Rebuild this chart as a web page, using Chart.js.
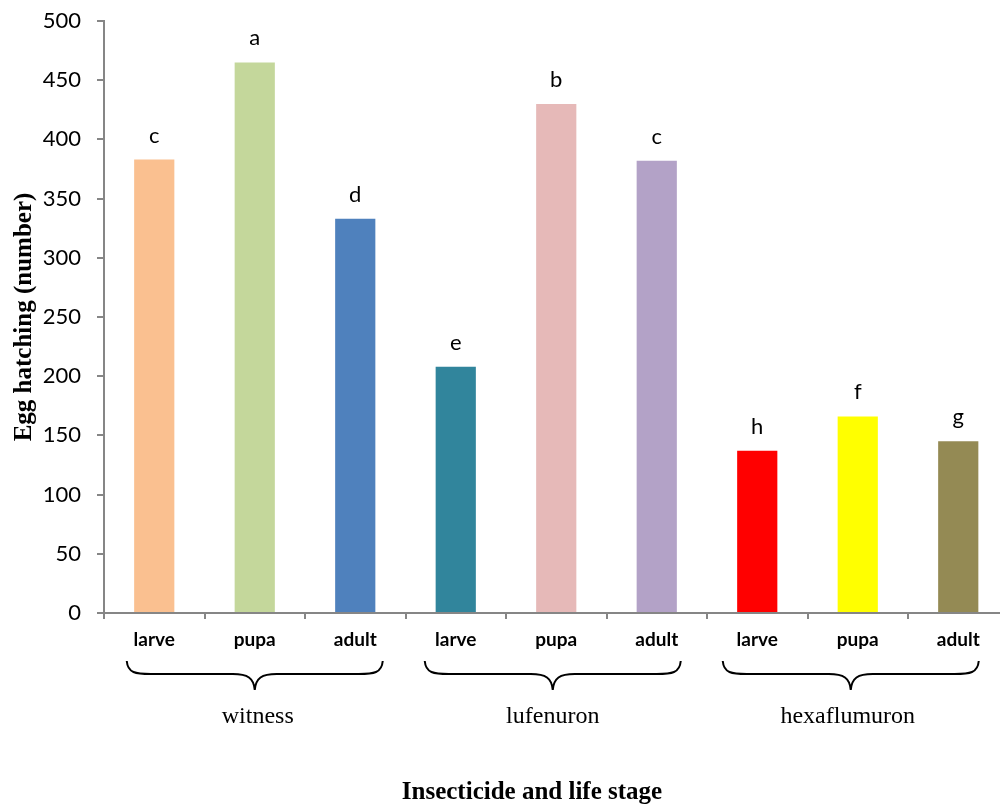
<!DOCTYPE html>
<html>
<head>
<meta charset="utf-8">
<script src="https://cdn.jsdelivr.net/npm/chart.js@4.4.1/dist/chart.umd.min.js"></script>
<style>
  html, body { margin: 0; padding: 0; background: #fff; overflow: hidden; }
  #wrap { width: 1010px; height: 804px; }
</style>
</head>
<body>
<div id="wrap"><canvas id="c" width="1010" height="804"></canvas></div>
<script>
const stages = ['larve', 'pupa', 'adult', 'larve', 'pupa', 'adult', 'larve', 'pupa', 'adult'];
const groups = ['witness', 'lufenuron', 'hexaflumuron'];
const hatching = [383, 465, 333, 208, 430, 382, 137, 166, 145];
const letters = ['c', 'a', 'd', 'e', 'b', 'c', 'h', 'f', 'g'];
const barColors = ['#FAC090', '#C4D79B', '#4F81BD', '#31859C', '#E6B9B8', '#B3A2C7', '#FF0000', '#FFFF00', '#948A54'];
const yMin = 0, yMax = 500, yStep = 50;
const yTitle = 'Egg hatching (number)';
const xTitle = 'Insecticide and life stage';

const axisGray = '#868686';

const annot = {
  id: 'annot',
  afterDraw(chart) {
    const ctx = chart.ctx;
    const xs = chart.scales.x;
    const meta = chart.getDatasetMeta(0);
    ctx.save();
    // significance letters
    ctx.fillStyle = '#000';
    ctx.font = '22px Lato';
    ctx.textAlign = 'center';
    ctx.textBaseline = 'alphabetic';
    meta.data.forEach((el, i) => {
      ctx.fillText(letters[i], el.x, el.y - 17);
    });
    // braces + group labels
    ctx.strokeStyle = '#000';
    ctx.lineWidth = 2;
    groups.forEach((g, gi) => {
      const cMid = xs.getPixelForValue(gi * 3 + 1);
      const bc = cMid - gi * 3.5;       // brace centre
      const half = 128;
      const x0 = bc - half, x1 = bc + half;
      const yTop = 661, yMidL = 674, yTip = 690;
      ctx.beginPath();
      ctx.moveTo(x0, yTop);
      ctx.bezierCurveTo(x0 + 1, yMidL - 1, x0 + 9, yMidL, x0 + 24, yMidL);
      ctx.lineTo(bc - 22, yMidL);
      ctx.bezierCurveTo(bc - 7, yMidL, bc - 1, yMidL + 4, bc, yTip);
      ctx.bezierCurveTo(bc + 1, yMidL + 4, bc + 7, yMidL, bc + 22, yMidL);
      ctx.lineTo(x1 - 24, yMidL);
      ctx.bezierCurveTo(x1 - 9, yMidL, x1 - 1, yMidL - 1, x1, yTop);
      ctx.stroke();
      ctx.font = '24px "Liberation Serif", "Times New Roman", serif';
      ctx.fillText(g, cMid + 3 - gi * 6.5, 723);
    });
    // axis titles
    ctx.font = 'bold 25px "Liberation Serif", "Times New Roman", serif';
    ctx.fillText(xTitle, 532, 799);
    ctx.translate(31, 317);
    ctx.rotate(-Math.PI / 2);
    ctx.fillText(yTitle, 0, 0);
    ctx.restore();
  }
};

new Chart(document.getElementById('c'), {
  type: 'bar',
  data: {
    labels: stages,
    datasets: [{
      data: hatching,
      backgroundColor: barColors,
      borderWidth: 0,
      barPercentage: 0.40,
      categoryPercentage: 1.0
    }]
  },
  options: {
    responsive: false,
    animation: false,
    devicePixelRatio: 1,
    layout: { padding: { top: 21, right: 1.5, left: 0, bottom: 0 } },
    plugins: { legend: { display: false }, tooltip: { enabled: false } },
    scales: {
      x: {
        type: 'category',
        offset: true,
        grid: { display: true, drawOnChartArea: false, drawTicks: true, tickLength: 6, color: axisGray, lineWidth: 2, offset: true },
        border: { display: true, color: axisGray, width: 2 },
        ticks: { color: '#000', font: { family: 'Lato', size: 19, weight: 'bold' }, padding: 9, maxRotation: 0, autoSkip: false },
        afterFit(scale) { scale.height = 191; scale.paddingLeft = 0; scale.paddingRight = 0; }
      },
      y: {
        min: yMin,
        max: yMax,
        ticks: { stepSize: yStep, color: '#000', font: { family: 'Lato', size: 22 }, padding: 16 },
        grid: { display: true, drawOnChartArea: false, drawTicks: true, tickLength: 7, color: axisGray, lineWidth: 2 },
        border: { display: true, color: axisGray, width: 2 },
        afterFit(scale) { scale.width = 104; scale.paddingTop = 0; scale.paddingBottom = 0; }
      }
    }
  },
  plugins: [annot]
});
</script>
</body>
</html>
